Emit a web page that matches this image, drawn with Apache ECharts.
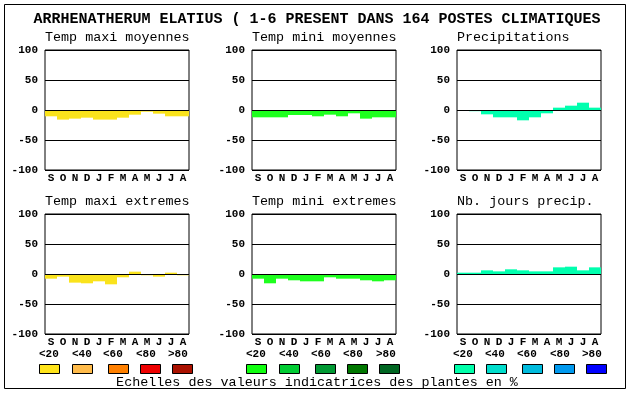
<!DOCTYPE html>
<html>
<head>
<meta charset="utf-8">
<script src="https://cdn.jsdelivr.net/npm/echarts@6/dist/echarts.min.js"></script>
<style>
html,body{margin:0;padding:0;background:#fff;}
#c{width:630px;height:394px;}
</style>
</head>
<body>
<div id="c"></div>
<script>
var months = ['S','O','N','D','J','F','M','A','M','J','J','A'];
var yTicks = [-100, -50, 0, 50, 100];
var tempMaxiMoy = [-10.5,-16,-14.4,-12.8,-16,-16,-12.8,-7.8,-2.8,-6.1,-10.5,-10.5];
var tempMiniMoy = [-12.2,-12.2,-12.2,-8.3,-8.3,-10.5,-7.8,-10.5,-5.5,-14.4,-12.2,-12.2];
var precipitations = [0,-2,-7.2,-12.2,-12.2,-17.2,-12.2,-5.5,3.9,7.2,12.2,3.9];
var tempMaxiExt = [-7.8,-4.4,-14.4,-15.5,-12.2,-17.2,-5.5,3.9,-2.2,-4.4,2.2,-2.2];
var tempMiniExt = [-7.8,-15.5,-7.8,-10.5,-12.2,-12.2,-5.5,-7.8,-7.8,-10.5,-12.2,-10.5];
var nbJoursPrecip = [2.2,2.2,6.1,4.4,7.8,6.1,4.4,4.4,11.1,12.2,6.1,11.1];
var panelTitles = ['Temp maxi moyennes','Temp mini moyennes','Precipitations','Temp maxi extremes','Temp mini extremes','Nb. jours precip.'];
var scaleLabels = ['<20','<40','<60','<80','>80'];
var title = 'ARRHENATHERUM ELATIUS ( 1-6 PRESENT DANS 164 POSTES CLIMATIQUES';
var footer = 'Echelles des valeurs indicatrices des plantes en %';

var seriesData = [tempMaxiMoy, tempMiniMoy, precipitations, tempMaxiExt, tempMiniExt, nbJoursPrecip];
var barColors = ['#FAE31C','#1EFF1E','#00FFAE','#FAE31C','#1EFF1E','#00FFAE'];
var scaleColors = [
  ['#FFE41A','#FFBB4A','#FF8000','#EE0000','#AA1100'],
  ['#10FF10','#00CC33','#009933','#007700','#006622'],
  ['#00FFAA','#00DDCC','#00BBDD','#0099EE','#0000FF']
];

var FONT = '"Liberation Mono", "DejaVu Sans Mono", monospace';
var lefts = [45, 252, 457];
var tops = [50, 214];
var W = 144, H = 120;

var grids = [], xAxes = [], yAxes = [], series = [], graphics = [];
for (var i = 0; i < 6; i++) {
  var col = i % 3, row = Math.floor(i / 3);
  grids.push({left: lefts[col], top: tops[row], width: W, height: H, show: true, borderColor: '#000', borderWidth: 1, backgroundColor: '#fff'});
  xAxes.push({
    type: 'category', gridIndex: i, data: months, boundaryGap: true,
    axisLine: {show: false}, axisTick: {show: false}, splitLine: {show: false},
    axisLabel: {interval: 0, margin: 3, color: '#000', fontFamily: FONT, fontWeight: 'bold', fontSize: 11}
  });
  yAxes.push({
    type: 'value', gridIndex: i, min: -100, max: 100, interval: 50,
    axisLine: {show: false}, axisTick: {show: false},
    splitLine: {show: true, lineStyle: {color: '#000', width: 1}},
    axisLabel: {margin: 7, color: '#000', fontFamily: FONT, fontWeight: 'bold', fontSize: 11,
      formatter: function (v) { return yTicks.indexOf(v) >= 0 ? String(v) : ''; }}
  });
  series.push({
    type: 'bar', xAxisIndex: i, yAxisIndex: i, data: seriesData[i],
    barWidth: '100%', barGap: '0%', barCategoryGap: '0%',
    itemStyle: {color: barColors[i]}, silent: true, animation: false,
    markLine: {silent: true, symbol: 'none', label: {show: false}, animation: false,
      lineStyle: {color: '#000', width: 1, type: 'solid'}, data: [{yAxis: 0}]}
  });
  graphics.push({type: 'text', left: lefts[col] + 0, top: tops[row] - 19,
    style: {text: panelTitles[i], fill: '#000', font: '13.4px ' + FONT}});
}

graphics.push({type: 'rect', shape: {x: 4.5, y: 4.5, width: 621, height: 384}, style: {fill: null, stroke: '#000', lineWidth: 1}, z: -1});
graphics.push({type: 'text', x: 317, y: 19, style: {text: title, fill: '#000', font: 'bold 15px ' + FONT, textAlign: 'center', textVerticalAlign: 'middle'}});
graphics.push({type: 'text', x: 317, y: 382, style: {text: footer, fill: '#000', font: '13.4px ' + FONT, textAlign: 'center', textVerticalAlign: 'middle'}});

var labelX = [[39,72,103,136,168],[246,279,311,343,376],[453,485,517,550,582]];
var boxX = [[39,72,108,140,172],[246,279,315,347,379],[454,486,522,554,586]];
for (var g = 0; g < 3; g++) {
  for (var k = 0; k < 5; k++) {
    graphics.push({type: 'text', x: labelX[g][k], y: 354.5,
      style: {text: scaleLabels[k], fill: '#000', font: 'bold 11px ' + FONT, textAlign: 'left', textVerticalAlign: 'middle'}});
    graphics.push({type: 'rect', shape: {x: boxX[g][k] + 0.5, y: 364.5, width: 20, height: 9},
      style: {fill: scaleColors[g][k], stroke: '#000', lineWidth: 1}});
  }
}

var chart = echarts.init(document.getElementById('c'), null, {renderer: 'canvas'});
chart.setOption({
  animation: false,
  backgroundColor: '#fff',
  grid: grids, xAxis: xAxes, yAxis: yAxes, series: series, graphic: graphics
});
</script>
</body>
</html>
